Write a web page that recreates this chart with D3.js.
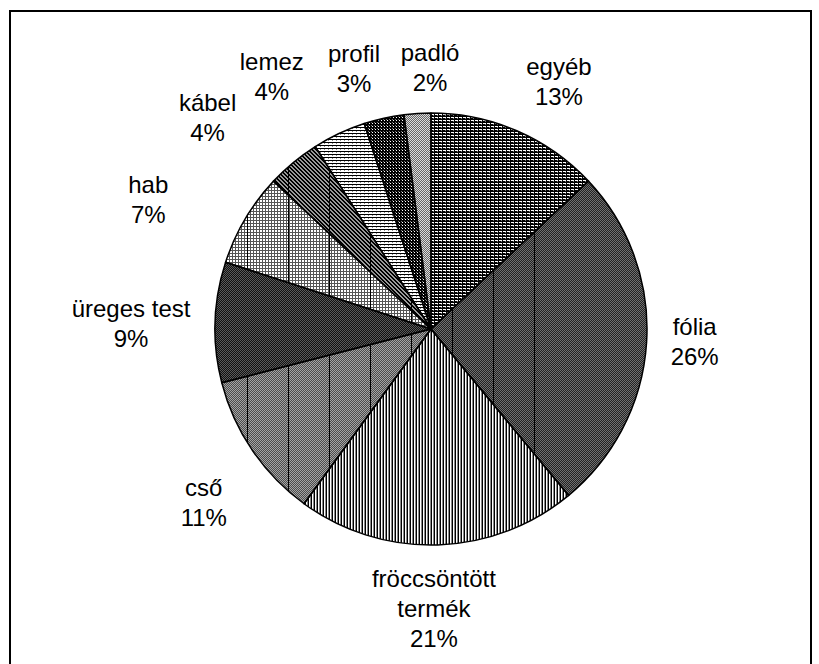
<!DOCTYPE html>
<html><head><meta charset="utf-8">
<script src="https://cdn.jsdelivr.net/npm/d3@7"></script>
<style>body{margin:0;background:#fff} svg{display:block}</style>
</head><body><svg id="c" width="819" height="664"></svg>
<script>
// ---- data ----
const categories = ["egyéb","fólia","fröccsöntött termék","cső","üreges test","hab","kábel","lemez","profil","padló"];
const values = [13,26,21,11,9,7,4,4,3,2];
const labelLines = [["egyéb"],["fólia"],["fröccsöntött","termék"],["cső"],["üreges test"],["hab"],["kábel"],["lemez"],["profil"],["padló"]];
const percentLabels = values.map(v => v + "%");

// ---- layout ----
const cx = 431, cy = 329, R = 216;
const labelAngleShift = [4.0, -0.8, 1.2, -3.2, -0.9, -6.0, -7.1, -7.1, -3.9, 3.4];
const labelRadius = [278, 264, 280, 286, 300, 311, 307, 298, 271, 261];
const lineH = 30;

const svg = d3.select("#c");
const defs = svg.append("defs");

function makePattern(id, w, h, bg, px) {
  const p = defs.append("pattern").attr("id", id).attr("patternUnits", "userSpaceOnUse")
    .attr("width", w).attr("height", h);
  p.append("rect").attr("width", w).attr("height", h).attr("fill", bg);
  px.forEach(r => p.append("rect").attr("x", r[0]).attr("y", r[1]).attr("width", r[2]).attr("height", r[3]).attr("fill", r[4]));
  return "url(#" + id + ")";
}

const fills = [
  makePattern("pEgyeb", 4, 3, "#000", [[0,1,3,1,"#fff"],[2,2,1,1,"#777"]]),
  makePattern("pFolia", 2, 2, "#222", [[0,0,1,1,"#707070"],[1,1,1,1,"#707070"]]),
  makePattern("pFrocc", 3, 2, "#fff", [[0,0,1,2,"#000"],[2,0,1,2,"#888"]]),
  makePattern("pCso", 2, 2, "#4c4c4c", [[0,0,1,1,"#a4a4a4"],[1,1,1,1,"#a4a4a4"]]),
  makePattern("pUreges", 2, 2, "#111", [[0,0,1,1,"#5a5a5a"],[1,1,1,1,"#5a5a5a"]]),
  makePattern("pHab", 3, 3, "#fff", [[0,2,3,1,"#555"],[2,0,1,2,"#555"]]),
  makePattern("pKabel", 4, 4, "#9a9a9a", [[0,0,1,1,"#000"],[1,1,1,1,"#000"],[2,2,1,1,"#000"],[3,3,1,1,"#000"],[1,0,1,1,"#000"],[2,1,1,1,"#000"],[3,2,1,1,"#000"],[0,3,1,1,"#000"]]),
  makePattern("pLemez", 4, 3, "#fff", [[0,2,4,1,"#000"],[1,0,1,1,"#888"]]),
  makePattern("pProfil", 3, 3, "#000", [[1,1,1,1,"#fff"],[0,0,1,1,"#777"]]),
  makePattern("pPadlo", 2, 2, "#666", [[0,0,1,1,"#dcdcdc"],[1,1,1,1,"#dcdcdc"]])
];
const withRules = [false, true, false, true, false, true, true, false, false, false];

// frame
svg.append("rect").attr("x", 10).attr("y", 11).attr("width", 801).attr("height", 700)
  .attr("fill", "none").attr("stroke", "#000").attr("stroke-width", 2);

const pie = d3.pie().sort(null).value(d => d);
const arcs = pie(values);
const arc = d3.arc().innerRadius(0).outerRadius(R);

const g = svg.append("g").attr("transform", `translate(${cx},${cy})`);

g.selectAll("path.slice").data(arcs).join("path").attr("class", "slice")
  .attr("d", arc).attr("fill", (d, i) => fills[i]);

// thin vertical rules that appear inside some of the patterned slices
const clip = defs.append("clipPath").attr("id", "ruleClip");
clip.selectAll("path").data(arcs.filter((d, i) => withRules[i])).join("path")
  .attr("d", arc).attr("transform", `translate(${cx},${cy})`);
const ruleX = d3.range(-5, 6).map(k => 329 + 41 * k);
svg.append("g").attr("clip-path", "url(#ruleClip)").selectAll("line").data(ruleX).join("line")
  .attr("x1", d => d + 0.5).attr("x2", d => d + 0.5).attr("y1", cy - R).attr("y2", cy + R)
  .attr("stroke", "#000").attr("stroke-width", 1);

g.selectAll("path.edge").data(arcs).join("path").attr("class", "edge")
  .attr("d", arc).attr("fill", "none").attr("stroke", "#000").attr("stroke-width", 1.5)
  .attr("stroke-linejoin", "round");

// labels
const lbl = svg.append("g").attr("font-family", "'Liberation Sans', Arial, sans-serif")
  .attr("font-size", 24).attr("fill", "#000").attr("text-anchor", "middle");
arcs.forEach((a, i) => {
  const th = (a.startAngle + a.endAngle) / 2 + labelAngleShift[i] * Math.PI / 180;
  const x = cx + labelRadius[i] * Math.sin(th);
  const y = cy - labelRadius[i] * Math.cos(th);
  const lines = labelLines[i].concat([percentLabels[i]]);
  const n = lines.length;
  const t = lbl.append("text");
  lines.forEach((s, j) => {
    t.append("tspan").attr("x", x).attr("y", y + 8 + (j - (n - 1) / 2) * lineH).text(s);
  });
});
</script></body></html>
